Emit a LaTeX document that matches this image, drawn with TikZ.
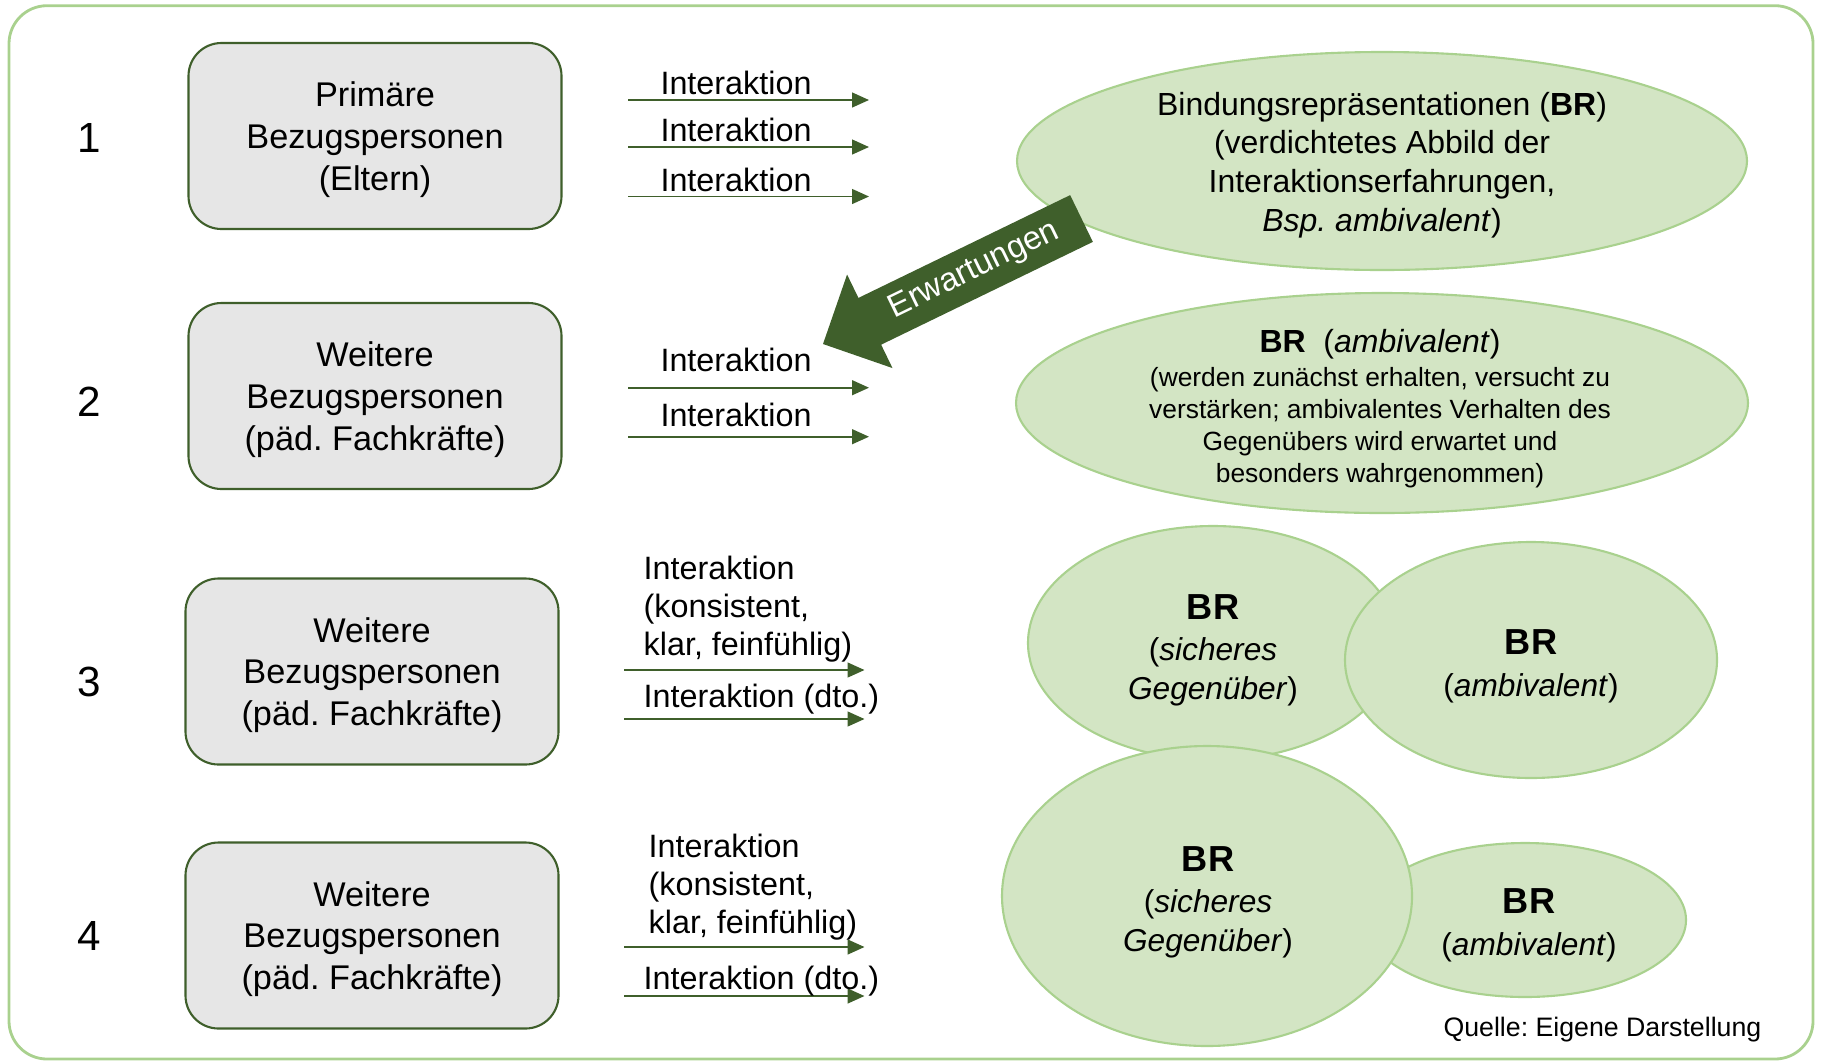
\documentclass[tikz,border=0pt]{standalone}
\usepackage{fontspec}
\setmainfont{Liberation Sans}
\frenchspacing
\usetikzlibrary{arrows.meta,calc,positioning,shapes.geometric}
\definecolor{framegreen}{HTML}{A9D18E}
\definecolor{brfill}{HTML}{D3E5C4}
\definecolor{darkgreen}{HTML}{3F5F2B}
\definecolor{boxgray}{HTML}{E6E6E6}
\tikzset{
personbox/.style={
  rectangle,
  rounded corners=0.33cm,
  line width=0.6pt,
  draw=darkgreen,
  fill=boxgray,
  minimum width=3.73cm,
  minimum height=1.86cm,
  text depth=0pt,
  align=center,
  font=\fontsize{9.75}{11.9}\selectfont,
  }
}
\tikzset{
brell/.style={
  ellipse,
  line width=0.6pt,
  inner sep=0pt,
  draw=framegreen,
  fill=brfill,
  }
}
\tikzset{
brtext/.style={
  inner sep=0pt,
  align=center,
  font=\fontsize{9}{10.9}\selectfont,
  }
}
\tikzset{
ialine/.style={
  line width=0.5pt,
  draw=darkgreen,
  -{Triangle[length=4.8pt,width=4.2pt]}
  }
}
\tikzset{ialabel/.style={inner sep=0pt, align=left, font=\fontsize{9.2}{10.9}\selectfont}}
\tikzset{rownum/.style={inner sep=0pt, font=\fontsize{12}{14}\selectfont}}

\begin{document}
\begin{tikzpicture}
    \useasboundingbox (0,0) rectangle (18.25,-10.62);
    \draw[framegreen, line width=0.8pt, rounded corners=0.38cm] (0.09,-0.057) rectangle (18.13,-10.59);

    % row numbers
    \node[rownum] (n1) at (0.89,-1.38) {1};
    \node[rownum] (n2) at (0.89,-4.02) {2};
    \node[rownum] (n3) at (0.89,-6.82) {3};
    \node[rownum] (n4) at (0.89,-9.36) {4};

    % persons
    \node[personbox] (p1) at (3.75,-1.36) {Primäre\\Bezugspersonen\\(Eltern)};
    \node[personbox] (p2) at (3.75,-3.96) {Weitere\\Bezugspersonen\\(päd. Fachkräfte)};
    \node[personbox] (p3) at (3.72,-6.715) {Weitere\\Bezugspersonen\\(päd. Fachkräfte)};
    \node[personbox] (p4) at (3.72,-9.355) {Weitere\\Bezugspersonen\\(päd. Fachkräfte)};

    % interaction arrows, row 1
    \foreach \y [count=\i] in {1.00,1.47,1.965}{
      \coordinate (a1s\i) at (6.28,-\y);
      \coordinate (a1e\i) at (8.69,-\y);
      \draw[ialine] (a1s\i) -- (a1e\i);
      \node[ialabel, anchor=base] (l1\i) at ($(7.36,-\y)+(0,0.052)$) {Interaktion};
    }

    % row 2
    \foreach \y [count=\i] in {3.877,4.367}{
      \coordinate (a2s\i) at (6.28,-\y);
      \coordinate (a2e\i) at (8.69,-\y);
      \draw[ialine] (a2s\i) -- (a2e\i);
    }
    \node[ialabel, anchor=base] (l21) at (7.36,-3.71) {Interaktion};
    \node[ialabel, anchor=base] (l22) at (7.36,-4.26) {Interaktion};

    % row 3
    \foreach \y [count=\i] in {6.70,7.19}{
      \coordinate (a3s\i) at (6.24,-\y);
      \coordinate (a3e\i) at (8.645,-\y);
      \draw[ialine] (a3s\i) -- (a3e\i);
    }
    \node[ialabel, anchor=west] (l31) at (6.43,-6.09) {Interaktion\\(konsistent,\\klar, feinfühlig)};
    \node[ialabel, anchor=base west] (l32) at (6.43,-7.07) {Interaktion (dto.)};

    % row 4
    \foreach \y [count=\i] in {9.47,9.96}{
      \coordinate (a4s\i) at (6.24,-\y);
      \coordinate (a4e\i) at (8.645,-\y);
      \draw[ialine] (a4s\i) -- (a4e\i);
    }
    \node[ialabel, anchor=west] (l41) at (6.48,-8.87) {Interaktion\\(konsistent,\\klar, feinfühlig)};
    \node[ialabel, anchor=base west] (l42) at (6.43,-9.89) {Interaktion (dto.)};

    % representations
    \node[brell, minimum width=7.30cm, minimum height=2.18cm] (e1) at (13.82,-1.61) {};
    \node[brtext, font=\fontsize{9.1}{11}\selectfont] (e1txt) at ([yshift=-0.04cm]e1.center) {Bindungsrepräsentationen (\textbf{BR})\\(verdichtetes Abbild der\\Interaktionserfahrungen,\\\textit{Bsp. ambivalent})};

    \node[brell, minimum width=7.32cm, minimum height=2.20cm] (e2) at (13.82,-4.03) {};
    \node[brtext, anchor=base, font=\fontsize{9.1}{11}\selectfont] (e2head) at (13.80,-3.525) {\textbf{BR}~~(\textit{ambivalent})};
    \node[brtext, below=0.07cm of e2head, font=\fontsize{7.5}{9.1}\selectfont] (e2body) {(werden zunächst erhalten, versucht zu\\verstärken; ambivalentes Verhalten des\\Gegenübers wird erwartet und\\besonders wahrgenommen)};

    % expectation arrow
    \coordinate (erwtail) at (10.815,-2.185);
    \coordinate (erwtip) at (8.23,-3.44);
    \coordinate (erwneck) at ($(erwtip)!0.52cm!(erwtail)$);
    \fill[darkgreen] ($(erwtail)!0.26cm!90:(erwtip)$) -- ($(erwneck)!0.26cm!90:(erwtip)$)
        -- ($(erwneck)!0.52cm!90:(erwtip)$) -- (erwtip) -- ($(erwneck)!0.52cm!-90:(erwtip)$)
        -- ($(erwneck)!0.26cm!-90:(erwtip)$) -- ($(erwtail)!0.26cm!-90:(erwtip)$) -- cycle;
    \node[rotate=25.9, text=white, inner sep=0pt, font=\fontsize{9.3}{11}\selectfont] (erw) at ($(erwtail)!0.414!(erwtip)$) {Erwartungen};

    % row 3 representations
    \node[brell, minimum width=3.70cm, minimum height=2.34cm] (e3l) at (12.13,-6.43) {};
    \node[brtext] (e3ltxt) at (12.13,-6.50) {{\fontsize{10.3}{12}\selectfont\bfseries BR}\\[1pt](\textit{sicheres}\\\textit{Gegenüber})};
    \node[brell, minimum width=3.72cm, minimum height=2.36cm] (e3r) at (15.31,-6.60) {};
    \node[brtext] (e3rtxt) at (15.31,-6.66) {{\fontsize{10.3}{12}\selectfont\bfseries BR}\\[1pt](\textit{ambivalent})};

    % row 4 representations
    \node[brell, minimum width=3.22cm, minimum height=1.54cm] (e4r) at (15.25,-9.20) {};
    \node[brtext] (e4rtxt) at (15.29,-9.25) {{\fontsize{10.3}{12}\selectfont\bfseries BR}\\[1pt](\textit{ambivalent})};
    \node[brell, minimum width=4.10cm, minimum height=3.00cm] (e4l) at (12.07,-8.96) {};
    \node[brtext] (e4ltxt) at (12.08,-9.02) {{\fontsize{10.3}{12}\selectfont\bfseries BR}\\[1pt](\textit{sicheres}\\\textit{Gegenüber})};

    \node[inner sep=0pt, anchor=east, font=\fontsize{7.6}{9}\selectfont] (quelle) at (17.62,-10.30) {Quelle: Eigene Darstellung};
\end{tikzpicture}
\end{document}
